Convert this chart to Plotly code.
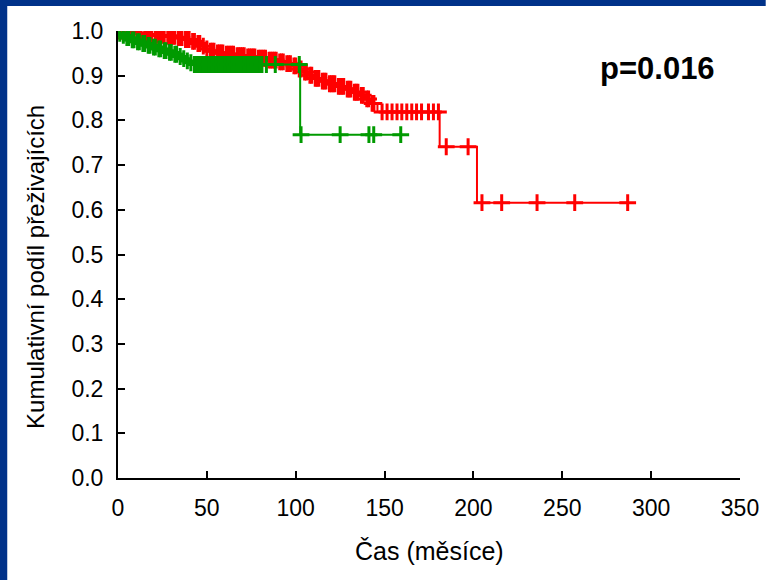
import plotly.graph_objects as go

# ---- data ----
red_event_t = [2, 6, 10, 14, 20, 27, 33, 37, 41, 44, 47, 49, 51, 55, 60, 66, 72, 78, 84, 90, 94, 98,
               101, 104, 107, 110, 114, 118, 123, 128, 132, 136, 139, 142, 146, 181, 202]
red_event_s = [0.998, 0.996, 0.994, 0.992, 0.990, 0.988, 0.985, 0.981, 0.977, 0.972, 0.966, 0.960,
               0.955, 0.951, 0.948, 0.945, 0.942, 0.939, 0.935, 0.931, 0.927, 0.922, 0.915, 0.908,
               0.901, 0.894, 0.888, 0.882, 0.876, 0.870, 0.863, 0.856, 0.848, 0.838, 0.819, 0.741, 0.616]
red_censor_t = [0.5, 1.5, 3, 4, 5, 7, 8, 9, 11, 12, 13, 15, 16, 17, 18, 19, 21, 22, 23, 24, 25, 26,
                28, 29, 30, 31, 32, 34, 35, 36, 38, 39, 40, 42, 43, 45, 46, 48, 50, 52, 53, 54, 56,
                57, 58, 59, 61, 62, 63, 64, 65, 67, 68, 69, 70, 71, 73, 74, 75, 76, 77, 79, 80, 81,
                82, 83, 85, 86, 87, 88, 89, 91, 92, 93, 95, 96, 97, 99, 100, 102, 103, 105, 106,
                108, 109, 111, 112, 113, 115, 116, 117, 119, 120, 121, 122, 124, 125, 126, 127, 129,
                130, 131, 133, 134, 135, 137, 138, 140, 141, 143, 144, 148.6, 151.4, 154.2, 157,
                159.7, 162.5, 165.3, 168, 170.8, 174.7, 177.5, 180.3, 184.7, 197, 204.8, 215.9,
                235.8, 257, 286.8]

green_event_t = [0.5, 2, 4, 7, 10, 13, 16, 19, 22, 25, 28, 31, 34, 36, 38, 40, 42, 102.5]
green_event_s = [0.995, 0.990, 0.985, 0.980, 0.976, 0.972, 0.968, 0.964, 0.960, 0.956, 0.952,
                 0.948, 0.943, 0.938, 0.933, 0.929, 0.925, 0.768]
green_censor_t = [1, 3, 5, 6, 8, 9, 11, 12, 14, 15, 17, 18, 20, 21, 23, 24, 26, 27, 29, 30, 32, 33,
                  35, 37, 39, 41, 43, 44, 45, 46, 47, 48, 49, 50, 51, 52, 53, 54, 55, 56, 57, 58,
                  59, 60, 61, 62, 63, 64, 65, 66, 67, 68, 69, 70, 71, 72, 73, 74, 75, 76, 77, 78,
                  79, 80, 81, 83.5, 88.5, 102, 103, 125, 141.2, 143.9, 159.1]

x_ticks = [0, 50, 100, 150, 200, 250, 300, 350]
y_ticks = [0.0, 0.1, 0.2, 0.3, 0.4, 0.5, 0.6, 0.7, 0.8, 0.9, 1.0]

RED = "#ff0000"
GREEN = "#009a00"
FONT = "Liberation Sans, Arial, sans-serif"


def step_curve(ev_t, ev_s, end_t):
    xs, ys = [0.0], [1.0]
    cur = 1.0
    for t, s in zip(ev_t, ev_s):
        xs += [t, t]
        ys += [cur, s]
        cur = s
    xs.append(end_t)
    ys.append(cur)
    return xs, ys


def surv_at(ev_t, ev_s, t):
    cur = 1.0
    for et, es in zip(ev_t, ev_s):
        if et <= t:
            cur = es
    return cur


fig = go.Figure()
for ev_t, ev_s, cen_t, col in [(red_event_t, red_event_s, red_censor_t, RED),
                               (green_event_t, green_event_s, green_censor_t, GREEN)]:
    xs, ys = step_curve(ev_t, ev_s, max(cen_t))
    fig.add_trace(go.Scatter(x=xs, y=ys, mode="lines", line=dict(color=col, width=2),
                             showlegend=False, hoverinfo="skip"))
    fig.add_trace(go.Scatter(x=cen_t, y=[surv_at(ev_t, ev_s, t) for t in cen_t], mode="markers",
                             marker=dict(symbol="cross-thin", size=12,
                                         line=dict(color=col, width=3)),
                             showlegend=False))

W, H = 771, 580
L, R, T, B = 118, 24, 31, 102
pw, ph = W - L - R, H - T - B


def px2x(px):
    return (px - L) / pw


def px2y(py):
    return (H - B - py) / ph


BLUE = "#003289"
shapes = [
    dict(type="rect", xref="paper", yref="paper", x0=px2x(-2), x1=px2x(6), y0=px2y(H + 2),
         y1=px2y(-2), fillcolor=BLUE, line=dict(width=0), layer="above"),
    dict(type="rect", xref="paper", yref="paper", x0=px2x(-2), x1=px2x(W + 2), y0=px2y(6),
         y1=px2y(-2), fillcolor=BLUE, line=dict(width=0), layer="above"),
]

annotations = [
    dict(text="p=0.016", xref="paper", yref="paper", x=px2x(664), y=px2y(68), showarrow=False,
         font=dict(family=FONT, size=31, color="black", weight="bold"), xanchor="center",
         yanchor="middle"),
    dict(text="Kumulativní podíl přeživajících", xref="paper", yref="paper", x=px2x(34),
         y=px2y(267), textangle=-90, showarrow=False, xanchor="center", yanchor="middle",
         font=dict(family=FONT, size=24, color="black")),
    dict(text="Čas (měsíce)", xref="paper", yref="paper", x=px2x(433), y=px2y(551),
         showarrow=False, xanchor="center", yanchor="middle",
         font=dict(family=FONT, size=25, color="black")),
]

fig.update_layout(
    width=W, height=H, autosize=False,
    margin=dict(l=L, r=R, t=T, b=B, pad=0),
    paper_bgcolor="white", plot_bgcolor="white",
    shapes=shapes, annotations=annotations,
    xaxis=dict(range=[0, 350], tickvals=x_ticks, ticktext=[str(v) for v in x_ticks],
               showgrid=False, zeroline=False, showline=True, linecolor="black", linewidth=2,
               ticks="inside", ticklen=7, tickwidth=1.5, tickcolor="black", ticklabelstandoff=8,
               tickfont=dict(family=FONT, size=23, color="black"), fixedrange=True),
    yaxis=dict(range=[0, 1], tickvals=y_ticks, ticktext=[f"{v:.1f}" for v in y_ticks],
               showgrid=False, zeroline=False, showline=True, linecolor="black", linewidth=2,
               ticks="inside", ticklen=7, tickwidth=1.5, tickcolor="black", ticklabelstandoff=8,
               tickfont=dict(family=FONT, size=23, color="black"), fixedrange=True),
)

fig.write_html("out.html")
